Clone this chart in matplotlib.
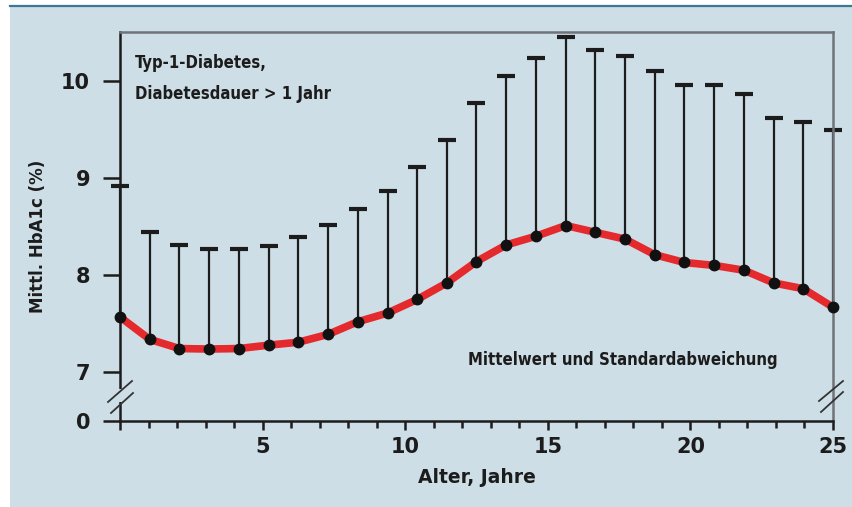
import matplotlib
matplotlib.use("Agg")
import matplotlib.pyplot as plt
from matplotlib.patches import Rectangle
from matplotlib.lines import Line2D
from matplotlib import font_manager

# data
alter = [0, 1.04, 2.08, 3.13, 4.17, 5.21, 6.25, 7.29, 8.33, 9.38, 10.42, 11.46, 12.5,
         13.54, 14.58, 15.63, 16.67, 17.71, 18.75, 19.79, 20.83, 21.88, 22.92, 23.96, 25]
mittelwert = [7.57, 7.34, 7.245, 7.24, 7.245, 7.28, 7.31, 7.39, 7.52, 7.61, 7.75, 7.92, 8.14,
              8.31, 8.40, 8.51, 8.44, 8.37, 8.21, 8.13, 8.10, 8.05, 7.92, 7.86, 7.67]
sd = [1.35, 1.10, 1.06, 1.03, 1.02, 1.02, 1.08, 1.13, 1.16, 1.26, 1.36, 1.47, 1.63,
      1.74, 1.83, 1.94, 1.88, 1.88, 1.89, 1.82, 1.85, 1.81, 1.70, 1.71, 1.82]
ytick_vals = [6.5, 7, 8, 9, 10]      # 6.5 stands for the broken "0"
ytick_labels = ["0", "7", "8", "9", "10"]
xtick_vals = [0, 5, 10, 15, 20, 25]
xtick_labels = ["", "5", "10", "15", "20", "25"]

bg = "#cedee7"
ink = "#1c1c1c"
plt.rcParams["font.family"] = ["DejaVu Sans"]

# condensed bold if the system has it, otherwise shrink the normal face
fp = font_manager.FontProperties(family="DejaVu Sans", stretch="condensed", weight="bold")
has_cond = "ondensed" in font_manager.findfont(fp, fallback_to_default=True)
note_kw = dict(fontweight="bold", family="DejaVu Sans", color=ink, va="baseline",
               fontstretch="condensed" if has_cond else "normal")
note_size = 12 if has_cond else 11

W, H = 853, 507
fig = plt.figure(figsize=(W / 100, H / 100), dpi=100, facecolor="white")
fig.patches.append(Rectangle((10 / W, 0), 1 - 10 / W, 1 - 7 / H, transform=fig.transFigure,
                             facecolor=bg, edgecolor="none", zorder=-10))
fig.lines.append(Line2D([10 / W, 1], [1 - 6 / H, 1 - 6 / H], transform=fig.transFigure,
                        color="#3b7896", lw=1.6, zorder=-9))

x0, x1, y0, y1 = 120, 833, 32, 421
ax = fig.add_axes([x0 / W, 1 - y1 / H, (x1 - x0) / W, (y1 - y0) / H])
ax.set_zorder(1)
ax.set_facecolor(bg)
ax.set_xlim(0, 25)
ax.set_ylim(6.5, 10.5)

eb = ax.errorbar(alter, mittelwert, yerr=[[0] * len(sd), sd], fmt="none", ecolor=ink,
                 elinewidth=1.6, capsize=6.8, capthick=3, zorder=2, clip_on=False)
eb[1][0].set_visible(False)   # no cap at the mean
ax.plot(alter, mittelwert, color="#e42a2d", lw=5.5, zorder=3, clip_on=False,
        solid_capstyle="round", solid_joinstyle="round")
ax.plot(alter, mittelwert, "o", color="#111111", ms=7.5, zorder=4, clip_on=False)

for s in ["left", "bottom"]:
    ax.spines[s].set_color(ink)
    ax.spines[s].set_linewidth(1.8)
for s in ["top", "right"]:
    ax.spines[s].set_color("#707478")
    ax.spines[s].set_linewidth(1.8)

ax.set_yticks(ytick_vals)
ax.set_yticklabels(ytick_labels)
ax.set_xticks(xtick_vals)
ax.set_xticklabels(xtick_labels)
ax.set_xticks(range(0, 26), minor=True)
ax.tick_params(axis="y", length=12.5, width=1.8, color=ink, pad=9,
               labelsize=15, labelcolor=ink)
ax.tick_params(axis="x", which="major", length=6.5, width=1.8, color=ink, pad=5,
               labelsize=15, labelcolor=ink)
ax.tick_params(axis="x", which="minor", length=5, width=1.8, color=ink)
for lab in ax.get_xticklabels() + ax.get_yticklabels():
    lab.set_fontweight("bold")

# axis break marks
def px(xp, yp):
    return (xp - x0) / (x1 - x0), (y1 - yp) / (y1 - y0)

ax.add_patch(Rectangle(px(118, 402), 4 / (x1 - x0), 13 / (y1 - y0), transform=ax.transAxes,
                       facecolor=bg, edgecolor="none", zorder=5, clip_on=False))
for xa, ya, xb, yb in [(108, 402, 132, 381), (111, 413, 133, 393),
                       (819, 401, 843, 381), (821, 412, 843, 392)]:
    (ax1, ay1), (ax2, ay2) = px(xa, ya), px(xb, yb)
    ax.plot([ax1, ax2], [ay1, ay2], transform=ax.transAxes, color="#333333", lw=1.3,
            clip_on=False, zorder=6)

ax.set_xlabel("Alter, Jahre", fontsize=13.5, fontweight="bold", color=ink, labelpad=8)
fig.text(38 / W, 1 - 236 / H, "Mittl. HbA1c (%)", rotation=90, ha="center", va="center",
         fontsize=12, fontweight="bold", color=ink)

ax.text(*px(135, 68), "Typ-1-Diabetes,", transform=ax.transAxes, fontsize=note_size, **note_kw)
ax.text(*px(135, 99), "Diabetesdauer > 1 Jahr", transform=ax.transAxes, fontsize=note_size,
        **note_kw)
ax.text(*px(468, 365), "Mittelwert und Standardabweichung", transform=ax.transAxes,
        fontsize=note_size, **note_kw)

fig.savefig("out.png", dpi=100, facecolor="white")
